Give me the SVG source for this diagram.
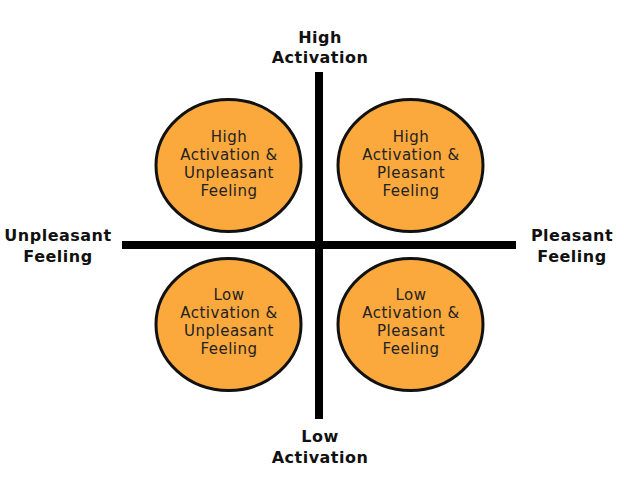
<svg xmlns="http://www.w3.org/2000/svg" width="624" height="486" viewBox="0 0 624 486">
<style>
.bubble{fill:#FBA83C;stroke:#111;stroke-width:3}
.ctext{font-family:"DejaVu Sans","Liberation Sans",sans-serif;font-size:15px;fill:#222;text-anchor:middle;letter-spacing:0.5px}
.axis{stroke:#000;stroke-width:8;fill:none}
.alabel{font-family:"DejaVu Sans","Liberation Sans",sans-serif;font-size:16px;font-weight:bold;fill:#111;text-anchor:middle;letter-spacing:0.5px}
</style>
<rect width="624" height="486" fill="#fff"/>
<g id="connectors">
<line class="axis" x1="319" y1="72" x2="319" y2="419"/>
<line class="axis" x1="122" y1="245" x2="516" y2="245"/>
</g>
<g id="label-high-activation">
<text class="alabel" x="320" y="43">High</text>
<text class="alabel" x="320" y="63">Activation</text>
</g>
<g id="label-low-activation">
<text class="alabel" x="320" y="442">Low</text>
<text class="alabel" x="320" y="463">Activation</text>
</g>
<g id="label-unpleasant">
<text class="alabel" x="58" y="241">Unpleasant</text>
<text class="alabel" x="58" y="262">Feeling</text>
</g>
<g id="label-pleasant">
<text class="alabel" x="572" y="241">Pleasant</text>
<text class="alabel" x="572" y="262">Feeling</text>
</g>
<g id="node-high-unpleasant">
<ellipse class="bubble" cx="228.5" cy="165.5" rx="72.5" ry="66"/>
<text class="ctext" x="229" y="142">High</text>
<text class="ctext" x="229" y="160">Activation &amp;</text>
<text class="ctext" x="229" y="177.5">Unpleasant</text>
<text class="ctext" x="229" y="195.5">Feeling</text>
</g>
<g id="node-high-pleasant">
<ellipse class="bubble" cx="410.5" cy="165.5" rx="72.5" ry="66"/>
<text class="ctext" x="411" y="142">High</text>
<text class="ctext" x="411" y="160">Activation &amp;</text>
<text class="ctext" x="411" y="177.5">Pleasant</text>
<text class="ctext" x="411" y="195.5">Feeling</text>
</g>
<g id="node-low-unpleasant">
<ellipse class="bubble" cx="228.5" cy="324.5" rx="72.5" ry="66"/>
<text class="ctext" x="229" y="300">Low</text>
<text class="ctext" x="229" y="318">Activation &amp;</text>
<text class="ctext" x="229" y="336">Unpleasant</text>
<text class="ctext" x="229" y="354">Feeling</text>
</g>
<g id="node-low-pleasant">
<ellipse class="bubble" cx="410.5" cy="324.5" rx="72.5" ry="66"/>
<text class="ctext" x="411" y="300">Low</text>
<text class="ctext" x="411" y="318">Activation &amp;</text>
<text class="ctext" x="411" y="336">Pleasant</text>
<text class="ctext" x="411" y="354">Feeling</text>
</g>
</svg>
